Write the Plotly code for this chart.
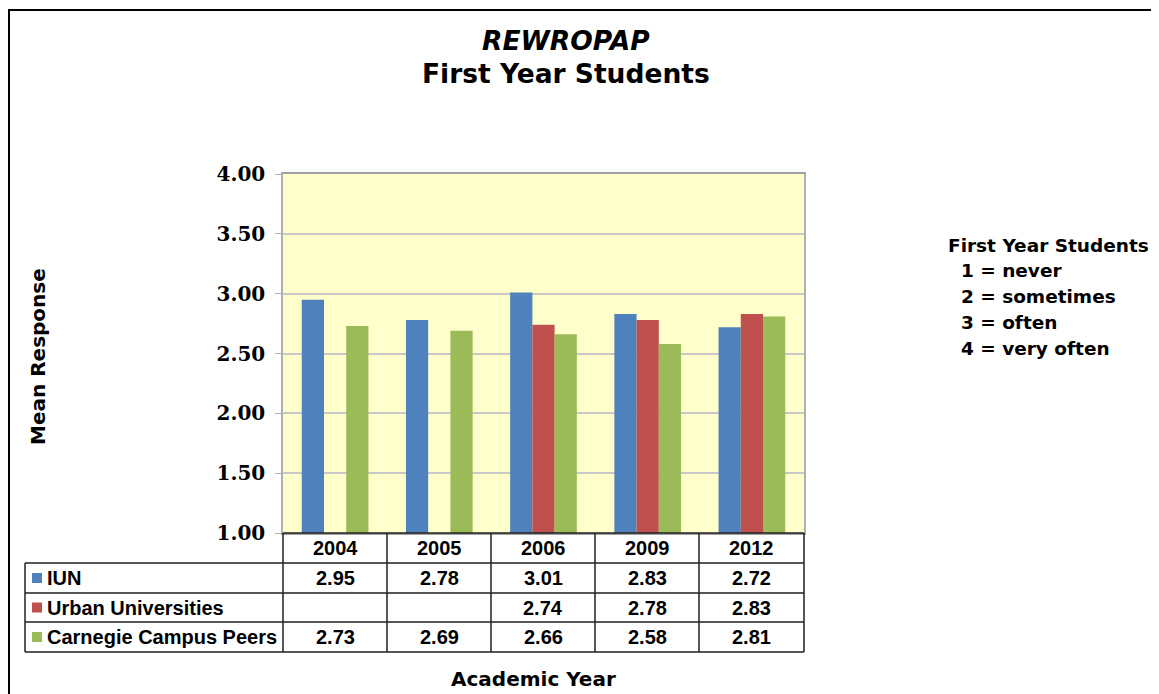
import plotly.graph_objects as go

years = ["2004", "2005", "2006", "2009", "2012"]
series_names = ["IUN", "Urban Universities", "Carnegie Campus Peers"]
iun = [2.95, 2.78, 3.01, 2.83, 2.72]
urban = [None, None, 2.74, 2.78, 2.83]
carnegie = [2.73, 2.69, 2.66, 2.58, 2.81]
colors = ["#4F81BD", "#C0504D", "#9BBB59"]
y_ticks = [1.0, 1.5, 2.0, 2.5, 3.0, 3.5, 4.0]
legend_lines = ["First Year Students", "  1 = never", "  2 = sometimes", "  3 = often", "  4 = very often"]

# page body has an 8px margin; work in reference pixel coordinates
O = 8
W, H = 1159 - O, 694 - O
L, R, T, B = 283, 804, 174, 533

def px(x):
    return (x - L) / (R - L)

def py(y):
    return (B - y) / (B - T)

all_series = [iun, urban, carnegie]
fig = go.Figure()
for name, vals, c in zip(series_names, all_series, colors):
    fig.add_trace(go.Bar(
        x=years, y=[None if v is None else v - 1.0 for v in vals], base=1.0,
        name=name, marker=dict(color=c, line=dict(width=0)),
        showlegend=False,
    ))

fig.update_layout(
    width=W, height=H,
    margin=dict(l=L - O, r=W - (R - O), t=T - O, b=H - (B - O), autoexpand=False),
    paper_bgcolor="white", plot_bgcolor="#FFFFCC",
    barmode="group", bargap=0.36, bargroupgap=0.0,
    font=dict(family="DejaVu Sans", color="black"),
)
fig.update_xaxes(showticklabels=False, showgrid=False, ticks="",
                 showline=True, linecolor="#A0A0A0", mirror=True, linewidth=1.5)
fig.update_yaxes(range=[1.0, 4.0], tickvals=y_ticks, ticktext=[f"{v:.2f}" for v in y_ticks],
                 showgrid=True, gridcolor="#C8C8C8", gridwidth=1.5,
                 ticks="outside", ticklen=6, tickcolor="#B0B0B0",
                 ticklabelstandoff=6,
                 showline=True, linecolor="#B0B0B0", linewidth=1.5, mirror=True,
                 zeroline=False,
                 tickfont=dict(family="DejaVu Serif", size=20, color="black", weight="bold"))

shapes = []
line_col = "#202020"
# outer border
shapes.append(dict(type="rect", xref="paper", yref="paper", x0=px(9), x1=px(1175), y0=py(10), y1=py(720),
                   line=dict(color="black", width=2)))
# table lines
col_edges = [283, 387, 491, 595, 699, 804]
row_edges = [533, 563, 593, 622, 652]
for i, yy in enumerate(row_edges):
    x0 = 283 if i == 0 else 25
    shapes.append(dict(type="line", xref="paper", yref="paper", x0=px(x0), x1=px(804), y0=py(yy), y1=py(yy),
                       line=dict(color=line_col, width=1.5)))
for xx in col_edges:
    shapes.append(dict(type="line", xref="paper", yref="paper", x0=px(xx), x1=px(xx), y0=py(533), y1=py(652),
                       line=dict(color=line_col, width=1.5)))
shapes.append(dict(type="line", xref="paper", yref="paper", x0=px(25), x1=px(25), y0=py(563), y1=py(652),
                   line=dict(color=line_col, width=1.5)))

annotations = []
tfont = dict(family="Liberation Sans", size=20, color="black", weight="bold")
# header row
for j, yr in enumerate(years):
    cx = (col_edges[j] + col_edges[j + 1]) / 2
    annotations.append(dict(x=px(cx), y=py(548), xref="paper", yref="paper", text=yr, showarrow=False,
                            font=tfont, xanchor="center", yanchor="middle"))
for i, (name, vals, c) in enumerate(zip(series_names, all_series, colors)):
    cy = (row_edges[i + 1] + row_edges[i + 2]) / 2
    shapes.append(dict(type="rect", xref="paper", yref="paper", x0=px(32), x1=px(42), y0=py(cy - 5), y1=py(cy + 5),
                       fillcolor=c, line=dict(width=0)))
    annotations.append(dict(x=px(45), y=py(cy), xref="paper", yref="paper", text=name, showarrow=False,
                            font=tfont, xanchor="left", yanchor="middle"))
    for j, v in enumerate(vals):
        if v is None:
            continue
        cx = (col_edges[j] + col_edges[j + 1]) / 2
        annotations.append(dict(x=px(cx), y=py(cy), xref="paper", yref="paper", text=f"{v:.2f}", showarrow=False,
                                font=tfont, xanchor="center", yanchor="middle"))

# titles
title_font = dict(family="DejaVu Sans", size=26.5, color="black", weight="bold")
annotations.append(dict(x=px(566), y=py(40), xref="paper", yref="paper", text="<i>REWROPAP</i>", showarrow=False,
                        font=title_font, xanchor="center", yanchor="middle"))
annotations.append(dict(x=px(566), y=py(73), xref="paper", yref="paper", text="First Year Students", showarrow=False,
                        font=title_font, xanchor="center", yanchor="middle"))
annotations.append(dict(x=px(38), y=py(357), xref="paper", yref="paper", text="Mean Response", showarrow=False,
                        textangle=-90, font=dict(family="DejaVu Sans", size=20, color="black", weight="bold"),
                        xanchor="center", yanchor="middle"))
annotations.append(dict(x=px(533), y=py(679), xref="paper", yref="paper", text="Academic Year", showarrow=False,
                        font=dict(family="DejaVu Sans", size=20, color="black", weight="bold"),
                        xanchor="center", yanchor="middle"))
for k, ln in enumerate(legend_lines):
    annotations.append(dict(x=px(946), y=py(245 + k * 25.8), xref="paper", yref="paper",
                            text=ln.replace(" ", "&nbsp;"), showarrow=False,
                            font=dict(family="DejaVu Sans", size=18.5, color="black", weight="bold"),
                            xanchor="left", yanchor="middle"))

fig.update_layout(shapes=shapes, annotations=annotations)
fig.write_html("out.html")
